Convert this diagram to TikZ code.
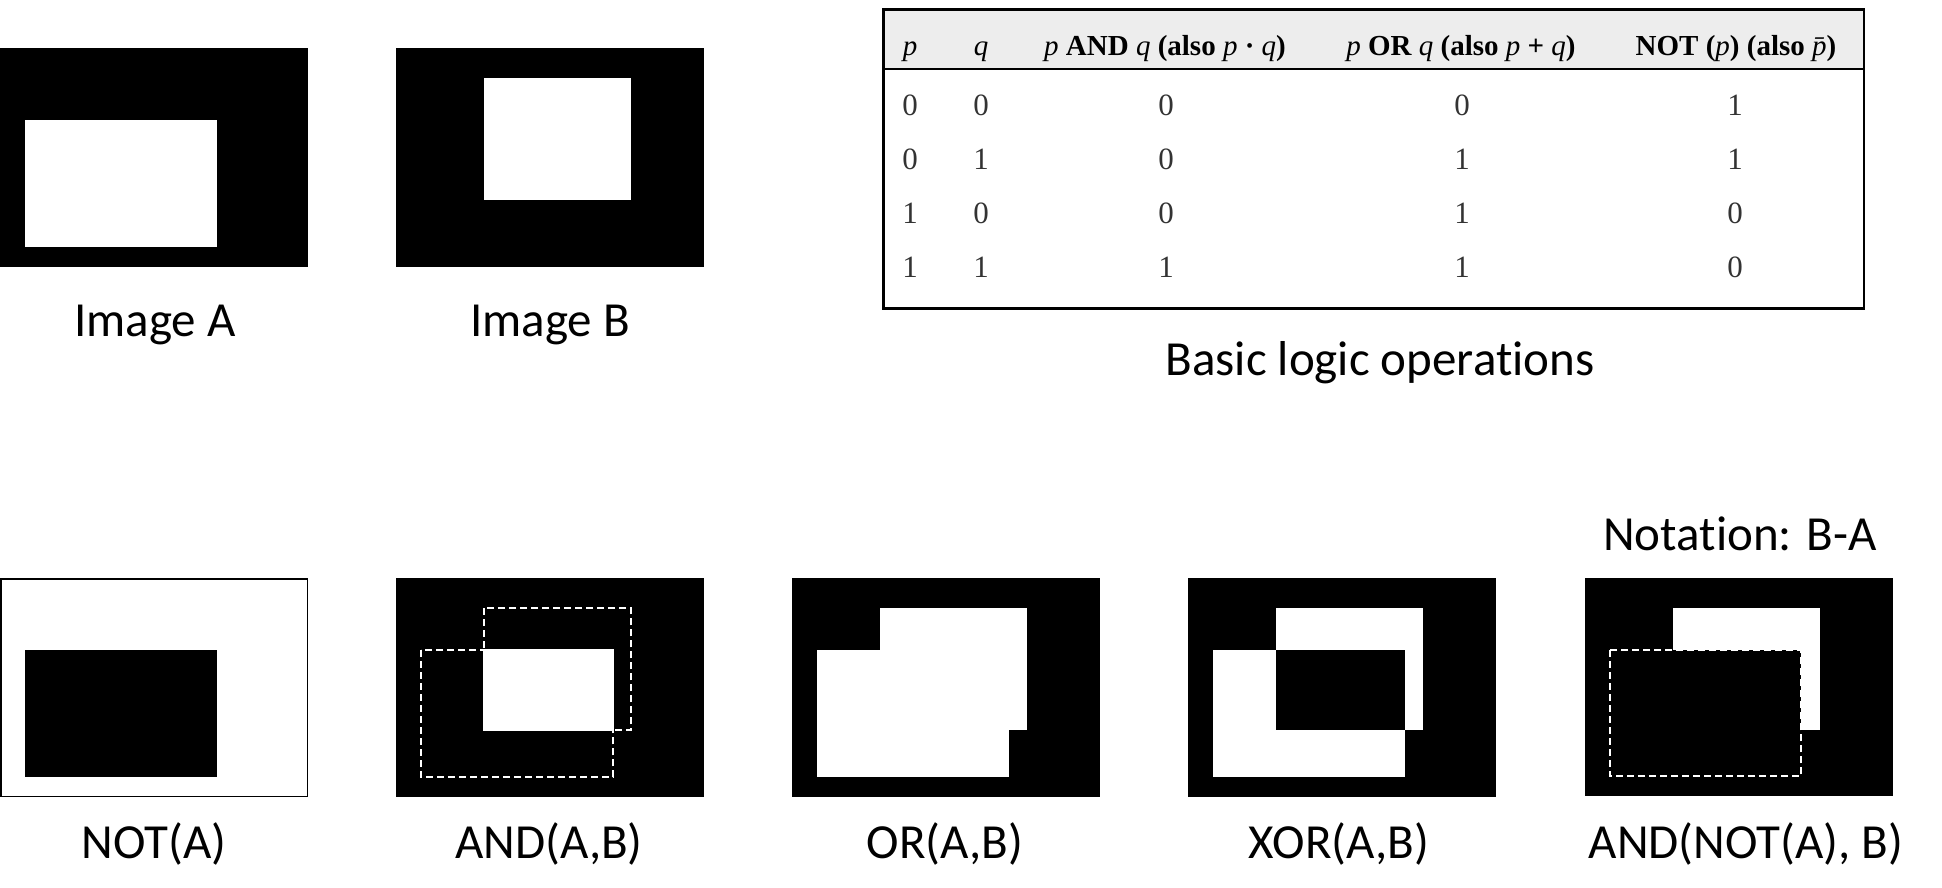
\documentclass[tikz,border=0pt]{standalone}
\usepackage{fontspec}
\newfontfamily\capfont{Carlito}[Ligatures={NoCommon}]
\newfontfamily\tabfont{Liberation Serif}
\newcommand\varit[1]{{\mdseries\itshape #1}}
\begin{document}
\begin{tikzpicture}[x=1pt,y=-1pt,
  lbl/.style={font=\capfont\fontsize{49}{55}\selectfont, anchor=base, inner sep=0pt},
  th/.style={font=\tabfont\bfseries\fontsize{29}{32}\selectfont, anchor=base, inner sep=0pt},
  td/.style={font=\tabfont\fontsize{31}{33}\selectfont, anchor=base, inner sep=0pt, text=black!80},
  dsh/.style={draw=white, line width=2pt, dash pattern=on 7pt off 4pt},
  frm/.style={draw=black, line width=2.5pt},
]
\useasboundingbox (0,0) rectangle (1942,887);

% ---------- top row ----------
\begin{scope}[shift={(0,48.3)}]
  \fill[black] (0,0) rectangle (308,219);
  \fill[white] (25,72) rectangle (217,199);
\end{scope}
\begin{scope}[shift={(396,48.3)}]
  \fill[black] (0,0) rectangle (308,219);
  \fill[white] (88,30) rectangle (235,152);
\end{scope}
\node[lbl] (la) at (155,336) {Image A};
\node[lbl] (lb) at (550,336) {Image B};

% ---------- table ----------
\fill[black!7] (883.4,9.3) rectangle (1864,69);
\draw[frm] (883.4,9.3) rectangle (1864,308.3);
\draw[frm] (883.4,69) -- (1864,69);
\node[th] (h1) at (910,55) {\varit{p}};
\node[th] (h2) at (981,55) {\varit{q}};
\node[th] (h3) at (1165,55) {\varit{p} AND \varit{q} (also \varit{p} · \varit{q})};
\node[th] (h4) at (1461,55) {\varit{p} OR \varit{q} (also \varit{p} + \varit{q})};
\node[th] (h5) at (1736,55) {NOT (\varit{p}) (also \varit{\=p})};
% rows
\node[td] (r11) at (910,115) {0};   \node[td] (r12) at (981,115) {0};
\node[td] (r13) at (1166,115) {0};  \node[td] (r14) at (1462,115) {0};  \node[td] (r15) at (1735,115) {1};
\node[td] (r21) at (910,169.5) {0}; \node[td] (r22) at (981,169.5) {1};
\node[td] (r23) at (1166,169.5) {0};\node[td] (r24) at (1462,169.5) {1};\node[td] (r25) at (1735,169.5) {1};
\node[td] (r31) at (910,223) {1};   \node[td] (r32) at (981,223) {0};
\node[td] (r33) at (1166,223) {0};  \node[td] (r34) at (1462,223) {1};  \node[td] (r35) at (1735,223) {0};
\node[td] (r41) at (910,277) {1};   \node[td] (r42) at (981,277) {1};
\node[td] (r43) at (1166,277) {1};  \node[td] (r44) at (1462,277) {1};  \node[td] (r45) at (1735,277) {0};
\node[lbl] (lt) at (1380,375) {Basic logic operat\kern0pt ions};

% ---------- bottom row ----------
% NOT(A)
\begin{scope}[shift={(0,578.3)}]
  \draw[black, line width=1.5pt, fill=white] (0.75,0.75) rectangle (307.25,218.25);
  \fill[black] (25,72) rectangle (217,199);
\end{scope}
% AND(A,B)
\begin{scope}[shift={(396,578.3)}]
  \fill[black] (0,0) rectangle (308,219);
  \draw[dsh] (25,72) rectangle (217,199);
  \draw[dsh] (88,30) rectangle (235,152);
  \fill[white] (87,71) rectangle (218,153);
\end{scope}
% OR(A,B)
\begin{scope}[shift={(792,578.3)}]
  \fill[black] (0,0) rectangle (308,219);
  \fill[white] (25,72) rectangle (217,199);
  \fill[white] (88,30) rectangle (235,152);
\end{scope}
% XOR(A,B)
\begin{scope}[shift={(1188,578.3)}]
  \fill[black] (0,0) rectangle (308,219);
  \fill[white] (25,72) rectangle (217,199);
  \fill[white] (88,30) rectangle (235,152);
  \fill[black] (88,72) rectangle (217,152);
\end{scope}
% AND(NOT(A),B)
\begin{scope}[shift={(1585,578.3)}]
  \fill[black] (0,0) rectangle (307.5,218);
  \fill[white] (88,30) rectangle (235,152);
  \fill[black] (25,72) rectangle (216,198);
  \draw[dsh] (25,72) rectangle (216,198);
\end{scope}

\node[lbl] (l6) at (1740,550) {Notat\kern0pt ion: B-A};
\node[lbl] (l1) at (154,858) {NOT(A)};
\node[lbl] (l2) at (549,858) {AND(A,B)};
\node[lbl] (l3) at (945,858) {OR(A,B)};
\node[lbl] (l4) at (1339,858) {XOR(A,B)};
\node[lbl] (l5) at (1746,858) {AND(NOT(A), B)};
\end{tikzpicture}
\end{document}
